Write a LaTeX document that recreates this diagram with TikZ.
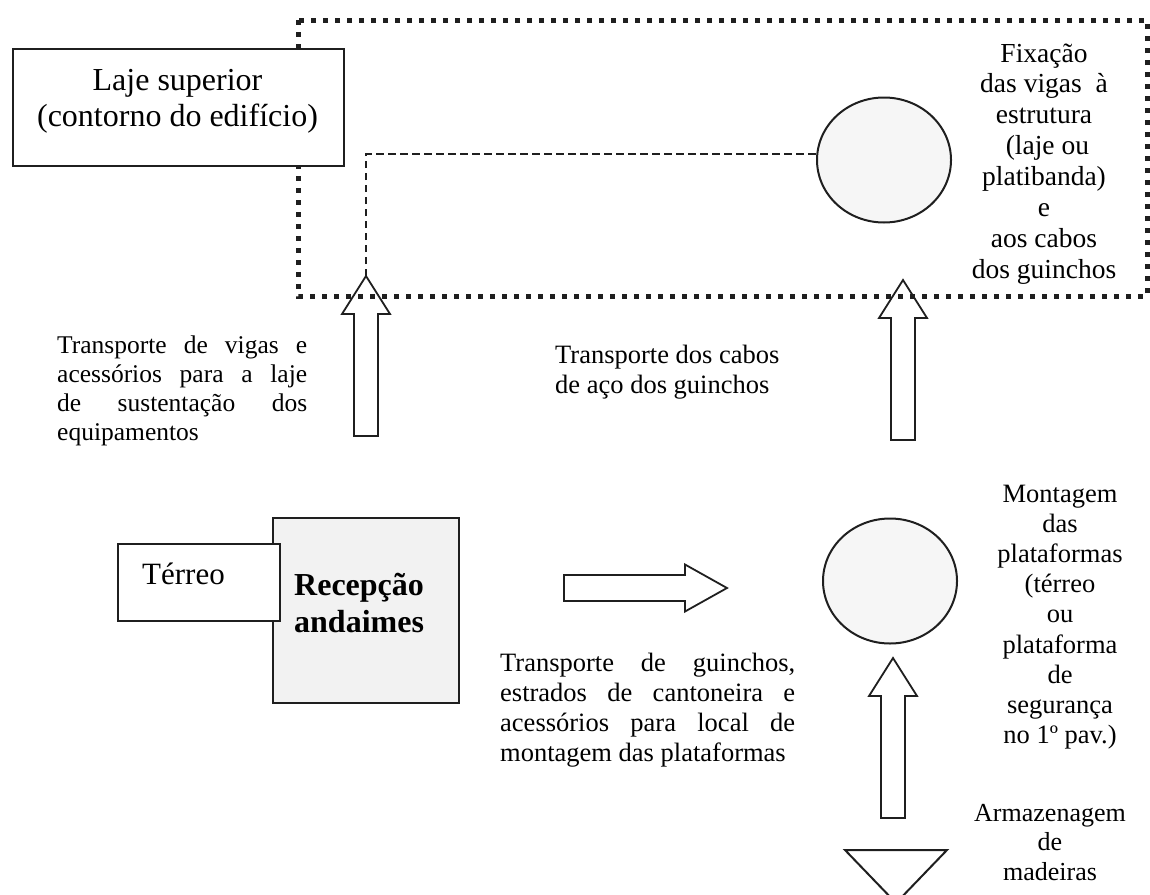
\documentclass[tikz,border=0pt]{standalone}
\usepackage{fontspec}
\setmainfont{Liberation Serif}
\usetikzlibrary{shapes.geometric}
\begin{document}
\begin{tikzpicture}[x=1pt,y=-1pt,
  ln/.style={draw=black!88, line width=2pt},
  bigdot/.style={draw=black!88, line width=5pt, dash pattern=on 5pt off 7pt},
  thindash/.style={draw=black!88, line width=1.8pt, dash pattern=on 7.5pt off 4.5pt},
  blk/.style={ln, fill=white, inner sep=0pt},
  circ/.style={ellipse, ln, fill=gray!7, minimum width=134pt, minimum height=125pt, inner sep=0pt},
  txt/.style={inner sep=0pt, anchor=base},
  txtw/.style={inner sep=0pt, anchor=base west},
  uparr/.pic={\draw[ln, line width=1.8pt, line join=miter] (0,0) -- (24,38) -- (12,38) -- (12,160) -- (-12,160) -- (-12,38) -- (-24,38) -- cycle;}
]
\useasboundingbox (0,0) rectangle (1150,894);
\clip (0,0) rectangle (1150,894);

% dotted frame of the upper slab
\draw[bigdot] (298,20) rectangle (1147,296);

% Laje superior box
\node[blk, minimum width=331pt, minimum height=117pt, anchor=north west] (laje) at (12,48) {};
\node[txt] (lajet) at (177.5,90) {\fontsize{32}{36}\selectfont\begin{tabular}[t]{@{}c@{}}Laje superior\\(contorno do edifício)\end{tabular}};

% circles
\node[circ] (c1) at (884,160) {};
\node[circ] (c2) at (890,581) {};

% dashed connector
\coordinate (t1) at (366,276);
\draw[thindash] (t1) |- ([yshift=6pt]c1.west);

% block arrows
\pic at (366,276) {uparr};
\pic at (903,280) {uparr};
\pic at (893,658) {uparr};
\draw[ln, line width=1.8pt, line join=miter] (727,588) -- (685,564.5) -- (685,575) -- (564,575) -- (564,601) -- (685,601) -- (685,611.5) -- cycle;

% storage triangle
\draw[ln] (845,850) -- (947,850) -- (896,903) -- cycle;

% ground floor boxes
\node[ln, fill=gray!10, minimum width=186pt, minimum height=185pt, anchor=north west, inner sep=0pt] (rec) at (272,517) {};
\node[blk, minimum width=162pt, minimum height=77pt, anchor=north west] (ter) at (117,543) {};
\node[txtw] (tert) at (142,584) {\fontsize{31}{36}\selectfont Térreo};
\node[txtw] (rect) at (294,595) {\fontsize{32}{37}\selectfont\bfseries\begin{tabular}[t]{@{}l@{}}Recepção\\andaimes\end{tabular}};

% texts
\node[txt] (fix) at (1044,62) {\fontsize{27.5}{30.9}\selectfont\begin{tabular}[t]{@{}c@{}}Fixação\\das vigas~ à\\estrutura\\~(laje ou\\platibanda)\\e\\aos cabos\\dos guinchos\end{tabular}};

\node[txtw] (tv) at (57,353) {\fontsize{25.5}{29}\selectfont\begin{tabular}[t]{@{}l@{}}\makebox[250pt][s]{Transporte de vigas e}\\\makebox[250pt][s]{acessórios para a laje}\\\makebox[250pt][s]{de sustentação dos}\\equipamentos\end{tabular}};

\node[txtw] (tc) at (555,363) {\fontsize{26.5}{30}\selectfont\begin{tabular}[t]{@{}l@{}}Transporte dos cabos\\de aço dos guinchos\end{tabular}};

\node[txtw] (tg) at (500,671) {\fontsize{26.5}{30.3}\selectfont\begin{tabular}[t]{@{}l@{}}\makebox[295pt][s]{Transporte de guinchos,}\\\makebox[295pt][s]{estrados de cantoneira e}\\\makebox[295pt][s]{acessórios para local de}\\montagem das plataformas\end{tabular}};

\node[txt] (mont) at (1060,502) {\fontsize{26.5}{30.2}\selectfont\begin{tabular}[t]{@{}c@{}}Montagem\\das\\plataformas\\(térreo\\ou\\plataforma\\de\\segurança\\no 1º pav.)\end{tabular}};

\node[txt] (arm) at (1050,821) {\fontsize{26}{29.5}\selectfont\begin{tabular}[t]{@{}c@{}}Armazenagem\\de\\madeiras\end{tabular}};
\end{tikzpicture}
\end{document}
